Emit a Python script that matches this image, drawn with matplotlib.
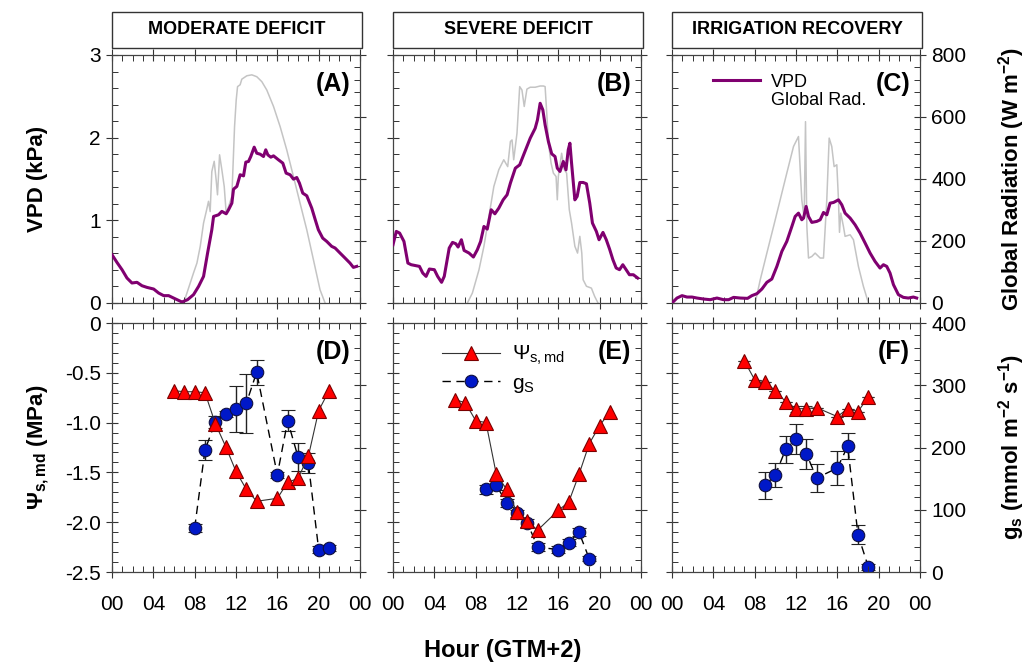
import matplotlib
matplotlib.use("Agg")
import matplotlib.pyplot as plt
import numpy as np
from matplotlib.patches import Rectangle
from matplotlib.ticker import MultipleLocator, FuncFormatter
from matplotlib.lines import Line2D

plt.rcParams['font.family'] = ['Liberation Sans', 'DejaVu Sans']
plt.rcParams['mathtext.fontset'] = 'custom'
plt.rcParams['mathtext.rm'] = 'Liberation Sans'
plt.rcParams['mathtext.it'] = 'Liberation Sans'
plt.rcParams['mathtext.bf'] = 'Liberation Sans:bold'
plt.rcParams['axes.unicode_minus'] = False

# ---------------- data ----------------
titles = ["MODERATE DEFICIT", "SEVERE DEFICIT", "IRRIGATION RECOVERY"]
top_tags = ["(A)", "(B)", "(C)"]
bot_tags = ["(D)", "(E)", "(F)"]

# VPD (kPa) traces
vpd_a_h = [0.0, 0.48, 0.97, 1.45, 1.93, 2.42, 2.90, 3.38, 4.03, 4.51, 5.0, 5.48, 5.96, 6.77, 7.31, 7.89,
           8.38, 8.86, 9.25, 9.66, 9.83, 10.31, 10.63, 11.05, 11.28, 11.60, 11.76, 12.08, 12.40, 12.73,
           12.95, 13.21, 13.43, 13.76, 14.01, 14.34, 14.66, 14.88, 15.08, 15.37, 15.63, 16.11, 16.53,
           16.85, 17.24, 17.56, 17.88, 18.14, 18.46, 18.85, 19.33, 19.65, 19.97, 20.39, 20.78, 21.26,
           21.59, 22.07, 22.55, 23.03, 23.36, 23.68]
vpd_a = [0.584, 0.491, 0.403, 0.302, 0.242, 0.250, 0.209, 0.189, 0.169, 0.121, 0.089, 0.089, 0.060,
         0.012, 0.040, 0.101, 0.201, 0.322, 0.604, 0.886, 1.047, 1.067, 1.108, 1.079, 1.128, 1.208,
         1.377, 1.410, 1.551, 1.538, 1.704, 1.712, 1.772, 1.885, 1.812, 1.800, 1.772, 1.853, 1.792,
         1.764, 1.780, 1.732, 1.692, 1.571, 1.551, 1.498, 1.518, 1.450, 1.329, 1.297, 1.148, 1.015,
         0.886, 0.785, 0.745, 0.685, 0.665, 0.604, 0.544, 0.483, 0.431, 0.443]

vpd_b_h = [0.0, 0.32, 0.64, 1.06, 1.44, 1.76, 2.24, 2.56, 2.88, 3.2, 3.52, 4.0, 4.32, 4.70, 4.96, 5.44,
           5.76, 6.08, 6.30, 6.62, 6.88, 7.36, 7.78, 8.16, 8.48, 8.8, 9.12, 9.50, 9.86, 10.24, 10.66,
           11.04, 11.36, 11.84, 12.26, 12.64, 12.96, 13.28, 13.76, 13.98, 14.24, 14.50, 14.72, 15.04,
           15.36, 15.68, 15.90, 16.16, 16.48, 16.74, 16.96, 17.12, 17.28, 17.60, 17.82, 18.08, 18.4,
           18.72, 19.04, 19.30, 19.68, 19.94, 20.32, 20.64, 20.96, 21.28, 21.60, 21.92, 22.24, 22.56,
           22.88, 23.26, 23.68]
vpd_b = [0.705, 0.866, 0.846, 0.745, 0.483, 0.463, 0.451, 0.443, 0.362, 0.322, 0.411, 0.403, 0.322,
         0.250, 0.322, 0.665, 0.733, 0.717, 0.677, 0.765, 0.636, 0.604, 0.556, 0.644, 0.745, 0.926,
         0.894, 1.128, 1.079, 1.148, 1.248, 1.309, 1.450, 1.631, 1.671, 1.792, 1.893, 1.994, 2.114,
         2.215, 2.416, 2.336, 2.155, 1.953, 1.804, 1.772, 1.631, 1.591, 1.712, 1.611, 1.853, 1.933,
         1.692, 1.248, 1.289, 1.458, 1.458, 1.442, 1.208, 0.967, 0.866, 0.765, 0.854, 0.765, 0.652,
         0.524, 0.423, 0.403, 0.463, 0.403, 0.342, 0.342, 0.302]

vpd_c_h = [0.0, 0.48, 0.97, 1.45, 1.93, 2.42, 3.06, 3.70, 4.35, 4.99, 5.48, 5.96, 6.60, 7.31, 7.73, 8.22,
           8.70, 9.18, 9.66, 10.15, 10.63, 11.11, 11.60, 11.92, 12.24, 12.56, 12.73, 12.98, 13.21, 13.53,
           14.01, 14.34, 14.66, 14.98, 15.30, 15.63, 16.11, 16.43, 16.75, 17.24, 17.72, 18.20, 18.69,
           19.17, 19.65, 20.13, 20.46, 20.78, 21.10, 21.43, 21.91, 22.39, 22.87, 23.36, 23.68]
vpd_c = [0.0, 0.060, 0.089, 0.072, 0.072, 0.060, 0.048, 0.040, 0.060, 0.040, 0.040, 0.068, 0.060, 0.056,
         0.089, 0.113, 0.169, 0.250, 0.290, 0.443, 0.624, 0.745, 0.926, 1.047, 1.087, 1.007, 1.027,
         1.168, 1.047, 0.975, 0.987, 1.007, 1.095, 1.067, 1.208, 1.216, 1.248, 1.188, 1.087, 1.027,
         0.946, 0.846, 0.725, 0.604, 0.503, 0.423, 0.463, 0.443, 0.362, 0.222, 0.101, 0.068, 0.060,
         0.072, 0.060]

# Global radiation (W m-2) traces
rad_a_h = [6.93, 7.25, 7.89, 8.22, 8.54, 8.86, 9.12, 9.34, 9.50, 9.66, 9.89, 10.08, 10.21, 10.41, 10.63,
           10.86, 11.05, 11.28, 11.60, 11.86, 12.02, 12.15, 12.40, 12.56, 13.05, 13.53, 14.01, 14.50,
           14.98, 15.63, 16.27, 16.91, 17.56, 18.20, 18.85, 19.49, 20.13, 20.62]
rad_a = [0, 32, 97, 129, 183, 258, 295, 328, 295, 424, 457, 397, 349, 478, 430, 376, 290, 311, 344,
         569, 655, 698, 704, 722, 733, 736, 730, 714, 687, 634, 569, 494, 408, 322, 236, 140, 43, 0]

rad_b_h = [7.2, 7.68, 8.32, 8.8, 9.28, 9.76, 10.24, 10.72, 11.10, 11.36, 11.52, 11.68, 12.0, 12.26,
           12.48, 12.70, 12.96, 13.28, 13.76, 14.24, 14.56, 14.72, 14.88, 15.04, 15.30, 15.52, 15.78,
           15.90, 16.0, 16.32, 16.58, 16.80, 17.06, 17.28, 17.60, 17.86, 18.08, 18.27, 18.40, 18.72,
           19.2, 19.52, 19.84]
rad_b = [0, 32, 107, 183, 279, 376, 430, 462, 440, 521, 526, 462, 548, 698, 687, 634, 690, 696, 696,
         700, 700, 698, 612, 516, 451, 419, 408, 333, 408, 483, 430, 419, 301, 258, 183, 161, 215, 161,
         75, 54, 48, 21, 0]

rad_c_h = [8.05, 8.54, 9.18, 9.83, 10.47, 11.11, 11.76, 12.24, 12.56, 12.79, 12.92, 13.05, 13.21, 13.53,
           13.85, 14.34, 14.66, 14.98, 15.21, 15.46, 15.69, 15.95, 16.11, 16.21, 16.33, 16.59, 16.75,
           17.24, 17.56, 18.04, 18.52, 19.01]
rad_c = [0, 75, 161, 247, 333, 419, 505, 537, 333, 274, 585, 247, 145, 150, 161, 145, 145, 333, 532,
         505, 440, 446, 333, 228, 290, 247, 215, 220, 204, 118, 54, 0]

# Midday stem water potential (MPa)
psi_d_h = [6, 7, 8, 9, 10, 11, 12, 13, 14, 16, 17, 18, 19, 20, 21]
psi_d = [-0.68, -0.69, -0.69, -0.70, -1.01, -1.24, -1.49, -1.67, -1.79, -1.76, -1.60, -1.56, -1.34,
         -0.88, -0.68]
psi_e_h = [6, 7, 8, 9, 10, 11, 12, 13, 14, 16, 17, 18, 19, 20, 21]
psi_e = [-0.77, -0.80, -0.98, -1.00, -1.52, -1.67, -1.90, -1.99, -2.08, -1.88, -1.80, -1.52, -1.21,
         -1.03, -0.89]
psi_f_h = [7, 8, 9, 10, 11, 12, 13, 14, 16, 17, 18, 19]
psi_f = [-0.38, -0.57, -0.59, -0.68, -0.79, -0.86, -0.86, -0.85, -0.94, -0.86, -0.89, -0.74]
psi_f_err = [0, 0, 0, 0, 0, 0.03, 0.03, 0, 0, 0, 0, 0]

# Stomatal conductance (mmol m-2 s-1)
gs_d_h = [8, 9, 10, 11, 12, 13, 14, 16, 17, 18, 19, 20, 21]
gs_d = [71, 196, 241, 254, 262, 271, 321, 156, 243, 185, 175, 36, 39]
gs_d_err = [6, 16, 9, 5, 37, 47, 20, 5, 17, 22, 16, 5, 5]
gs_e_h = [9, 10, 11, 12, 13, 14, 16, 17, 18, 19]
gs_e = [133, 139, 111, 94, 79, 40, 36, 47, 64, 21]
gs_e_err = [7, 7, 7, 6, 6, 6, 6, 6, 6, 4]
gs_f_h = [9, 10, 11, 12, 13, 14, 16, 17, 18, 19]
gs_f = [139, 156, 197, 214, 190, 151, 167, 202, 60, 8]
gs_f_err = [22, 19, 22, 24, 24, 22, 28, 21, 15, 5]

# ---------------- figure ----------------
W, H = 1032, 667
fig = plt.figure(figsize=(W / 100, H / 100), dpi=100)

lefts = [112, 393, 672]
width = 248
top_rows = (55, 303)
bot_rows = (323, 572)

PURPLE = "#800070"
GRAY = "#c4c4c4"
hour_fmt = FuncFormatter(lambda v, p: f"{int(round(v)) % 24:02d}")


def make_ax(left, row):
    t, b = row
    return fig.add_axes([left / W, 1 - b / H, width / W, (b - t) / H])


def style(ax, ymaj, ymin, show_x):
    ax.set_xlim(0, 24)
    ax.xaxis.set_major_locator(MultipleLocator(4))
    ax.xaxis.set_minor_locator(MultipleLocator(1))
    ax.xaxis.set_major_formatter(hour_fmt)
    ax.yaxis.set_major_locator(MultipleLocator(ymaj))
    ax.yaxis.set_minor_locator(MultipleLocator(ymin))
    ax.tick_params(which="major", direction="inout", length=9, width=0.8, color="#333333",
                   labelsize=15, top=True, bottom=True, left=True, right=False)
    ax.tick_params(which="minor", direction="in", length=4, width=0.7, color="#333333",
                   top=True, bottom=True, left=True, right=False)
    ax.tick_params(axis="x", pad=12)
    if not show_x:
        ax.tick_params(axis="x", labelbottom=False)
    for s in ax.spines.values():
        s.set_color("#444444")
        s.set_linewidth(0.9)


def style_twin(ax2, ymaj, ymin, show):
    ax2.yaxis.set_major_locator(MultipleLocator(ymaj))
    ax2.yaxis.set_minor_locator(MultipleLocator(ymin))
    ax2.tick_params(which="major", direction="inout", length=9, width=0.8, color="#333333",
                    labelsize=15, labelright=show)
    ax2.tick_params(which="minor", direction="in", length=4, width=0.7, color="#333333")
    for s in ax2.spines.values():
        s.set_visible(False)


vpd_h = [vpd_a_h, vpd_b_h, vpd_c_h]
vpd = [vpd_a, vpd_b, vpd_c]
rad_h = [rad_a_h, rad_b_h, rad_c_h]
rad = [rad_a, rad_b, rad_c]
psi_h = [psi_d_h, psi_e_h, psi_f_h]
psi = [psi_d, psi_e, psi_f]
gs_h = [gs_d_h, gs_e_h, gs_f_h]
gs = [gs_d, gs_e, gs_f]
gs_err = [gs_d_err, gs_e_err, gs_f_err]

for i in range(3):
    # --- top: VPD + radiation
    ax = make_ax(lefts[i], top_rows)
    ax2 = ax.twinx()
    ax2.plot(rad_h[i], rad[i], color=GRAY, lw=1.1, zorder=1)
    ax2.set_ylim(0, 800)
    ax.set_zorder(ax2.get_zorder() + 1)
    ax.patch.set_visible(False)
    ax.plot(vpd_h[i], vpd[i], color=PURPLE, lw=2.2, zorder=3)
    ax.set_ylim(0, 3)
    style(ax, 1, 0.2, False)
    style_twin(ax2, 200, 40, i == 2)
    if i > 0:
        ax.tick_params(axis="y", labelleft=False)
    ax.text(0.96, 0.93, top_tags[i], transform=ax.transAxes, ha="right", va="top",
            fontsize=18, fontweight="bold")
    if i == 2:
        h1 = Line2D([], [], color=PURPLE, lw=2.2)
        h2 = Line2D([], [], color="white", lw=1)
        ax.legend([h1, h2], ["VPD", "Global Rad."], loc="upper left", bbox_to_anchor=(0.1, 0.99),
                  frameon=False, fontsize=13, handlelength=2.6, labelspacing=0.05, handletextpad=0.6)

    # header box
    bx = lefts[i] / W
    rect = Rectangle((bx, 1 - 48 / H), (width + 2) / W, 36 / H, transform=fig.transFigure,
                     facecolor="white", edgecolor="#333333", lw=1.0)
    fig.patches.append(rect)
    fig.text(bx + (width + 2) / 2 / W, 1 - 30 / H, titles[i], ha="center", va="center",
             fontsize=13, fontweight="bold")

    # --- bottom: psi + gs
    bx_ = make_ax(lefts[i], bot_rows)
    bx2 = bx_.twinx()
    bx_.set_zorder(bx2.get_zorder() + 1)
    bx_.patch.set_visible(False)
    bx2.errorbar(gs_h[i], gs[i], yerr=gs_err[i], color="black", lw=1.0, dashes=(6, 4),
                 marker="o", ms=9, mfc="#0018c8", mec="#101040", mew=0.8,
                 ecolor="#222222", elinewidth=1.0, capsize=5, capthick=1.0, zorder=2)
    bx2.set_ylim(0, 400)
    if i == 2:
        bx_.errorbar(psi_h[i], psi[i], yerr=psi_f_err, color="#333333", lw=0.8,
                     marker="^", ms=10, mfc="#ff0000", mec="#7a0000", mew=0.8,
                     ecolor="#333333", elinewidth=0.8, capsize=4, zorder=3)
    else:
        bx_.plot(psi_h[i], psi[i], color="#333333", lw=0.8, marker="^", ms=10,
                 mfc="#ff0000", mec="#7a0000", mew=0.8, zorder=3)
    bx_.set_ylim(-2.5, 0)
    style(bx_, 0.5, 0.1, True)
    bx_.yaxis.set_major_formatter(FuncFormatter(lambda v, p: "0" if abs(v) < 1e-9 else f"{v:.1f}"))
    style_twin(bx2, 100, 20, i == 2)
    if i > 0:
        bx_.tick_params(axis="y", labelleft=False)
    bx_.text(0.96, 0.93, bot_tags[i], transform=bx_.transAxes, ha="right", va="top",
             fontsize=18, fontweight="bold")
    if i == 1:
        l1 = Line2D([], [], color="#333333", lw=0.8, marker="^", ms=10, mfc="#ff0000",
                    mec="#7a0000", mew=0.8)
        l2 = Line2D([], [], color="black", lw=1.0, dashes=(6, 4), marker="o", ms=9,
                    mfc="#0018c8", mec="#101040", mew=0.8)
        bx_.legend([l1, l2], [r"$\Psi_\mathregular{s,md}$", r"g$_\mathregular{S}$"],
                   loc="upper left", bbox_to_anchor=(0.12, 0.99), frameon=False, fontsize=15,
                   handlelength=2.8, labelspacing=0.3, handletextpad=0.6)

# axis labels
fig.text(38 / W, 1 - 179 / H, "VPD (kPa)", rotation=90, ha="center", va="center",
         fontsize=16, fontweight="bold")
fig.text(38 / W, 1 - 447 / H, r"$\mathbf{\Psi_{s,md}}$ (MPa)", rotation=90, ha="center",
         va="center", fontsize=16, fontweight="bold")
fig.text(1012 / W, 1 - 179 / H, r"Global Radiation (W m$^\mathbf{-2}$)", rotation=90,
         ha="center", va="center", fontsize=16, fontweight="bold")
fig.text(1012 / W, 1 - 447 / H, r"g$_\mathbf{s}$ (mmol m$^\mathbf{-2}$ s$^\mathbf{-1}$)",
         rotation=90, ha="center", va="center", fontsize=16, fontweight="bold")
fig.text(503 / W, 1 - 650 / H, "Hour (GTM+2)", ha="center", va="center",
         fontsize=17, fontweight="bold")

fig.savefig("out.png", dpi=100)
